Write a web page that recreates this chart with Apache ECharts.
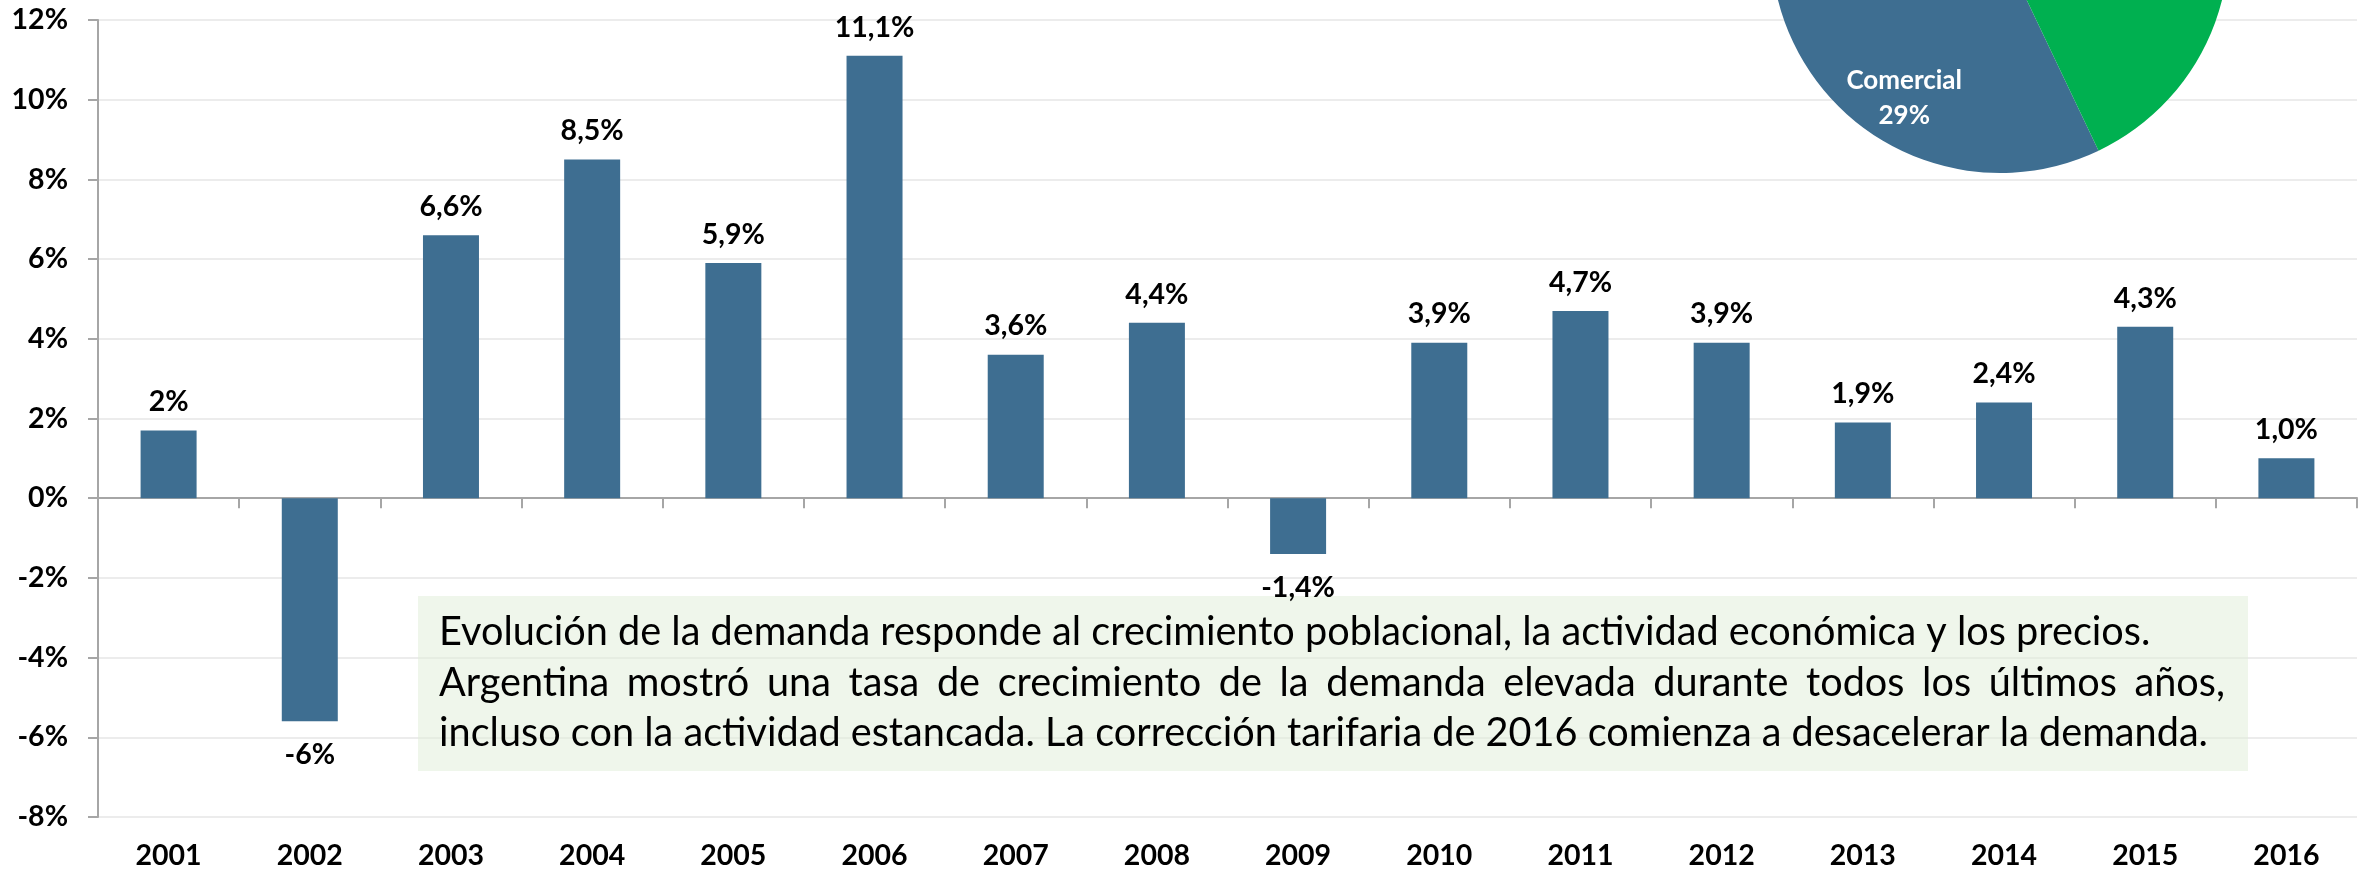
<!DOCTYPE html>
<html>
<head>
<meta charset="utf-8">
<script src="https://cdn.jsdelivr.net/npm/echarts@6/dist/echarts.min.js"></script>
<style>
html,body{margin:0;padding:0;background:#fff;}
#chart{width:2369px;height:872px;}
</style>
</head>
<body>
<div id="chart"></div>
<script>
// ---- data ----
const years = ['2001','2002','2003','2004','2005','2006','2007','2008','2009','2010','2011','2012','2013','2014','2015','2016'];
const growth = [1.7, -5.6, 6.6, 8.5, 5.9, 11.1, 3.6, 4.4, -1.4, 3.9, 4.7, 3.9, 1.9, 2.4, 4.3, 1.0];
const growthLabels = ['2%','-6%','6,6%','8,5%','5,9%','11,1%','3,6%','4,4%','-1,4%','3,9%','4,7%','3,9%','1,9%','2,4%','4,3%','1,0%'];
const yMin = -8, yMax = 12, yStep = 2;
const pieNames = ['Comercial','Residencial','Industrial'];
const pieValues = [29, 43, 28];
const noteLines = [
  'Evolución de la demanda responde al crecimiento poblacional, la actividad económica y los precios.',
  'Argentina mostró una tasa de crecimiento de la demanda elevada durante todos los últimos años,',
  'incluso con la actividad estancada. La corrección tarifaria de 2016 comienza a desacelerar la demanda.'
];

// ---- layout helpers ----
const FONT = 'Lato, "Open Sans", sans-serif';
const cv = document.createElement('canvas').getContext('2d');
function measure(t, size){ cv.font = size + 'px ' + FONT; return cv.measureText(t).width; }
const noteLeft = 439, line1W = 1712, line2W = 1786;
const noteSize = Math.min(41, 41 * line1W / measure(noteLines[0], 41));
const baselines = [646, 697, 747];

const noteEls = [];
noteEls.push({type:'rect', left:418, top:596, z:1, shape:{width:1830, height:175}, style:{fill:'rgba(226,239,218,0.55)'}});
function addText(t, x, base){
  noteEls.push({type:'text', x:x, y:base - noteSize*0.34, z:6,
    style:{text:t, font: noteSize + 'px ' + FONT, fill:'#000', verticalAlign:'middle', align:'left'}});
}
addText(noteLines[0], noteLeft, baselines[0]);
// justified second line
(function(){
  const words = noteLines[1].split(' ');
  const ws = words.map(w => measure(w, noteSize));
  const sum = ws.reduce((a,b)=>a+b,0);
  const gap = (line2W - sum) / (words.length - 1);
  let x = noteLeft;
  words.forEach((w,i)=>{ addText(w, x, baselines[1]); x += ws[i] + gap; });
})();
addText(noteLines[2], noteLeft, baselines[2]);

const chart = echarts.init(document.getElementById('chart'));
const axisGray = '#a6a6a6';
const boldText = {color:'#000', fontWeight:'bold', fontSize:28.5, fontFamily:FONT};
chart.setOption({
  animation:false,
  backgroundColor:'#fff',
  grid:{left:98, right:12, top:20, bottom:55, containLabel:false},
  xAxis:[
    {type:'category', data:years, position:'bottom',
     axisLine:{onZero:true, lineStyle:{color:axisGray, width:2}},
     axisTick:{show:true, alignWithLabel:false, length:10, lineStyle:{color:axisGray, width:2}},
     axisLabel:{show:false}, splitLine:{show:false}},
    {type:'category', data:years, position:'bottom',
     axisLine:{show:false, onZero:false}, axisTick:{show:false},
     axisLabel:Object.assign({margin:24}, boldText)}
  ],
  yAxis:{type:'value', min:yMin, max:yMax, interval:yStep,
    axisLine:{show:true, lineStyle:{color:axisGray, width:2}},
    axisTick:{show:true, length:10, lineStyle:{color:axisGray, width:2}},
    axisLabel:Object.assign({formatter:'{value}%', margin:30}, boldText),
    splitLine:{lineStyle:{color:'#ececec', width:2}}},
  series:[
    {type:'bar', xAxisIndex:0, barWidth:56, z:4,
     itemStyle:{color:'#3E6E91'},
     data: growth.map((v,i)=>({value:v, label:{position: v<0 ? 'bottom':'top', distance: v<0 ? 19 : 14}})),
     label:Object.assign({show:true, formatter:p=>growthLabels[p.dataIndex]}, boldText)},
    {type:'pie', center:[2000,-56], radius:229, startAngle:-64.5, clockwise:true,
     silent:true, z:3,
     data: pieNames.map((n,i)=>({name:n, value:pieValues[i], label:{show:i===0}})),
     color:['#3E6E91','#5B9BD5','#00B050'],
     itemStyle:{borderWidth:0},
     label:{position:'inside', formatter:'{b}\n{d}%', color:'#fff', fontWeight:'bold', fontSize:26, lineHeight:35, fontFamily:FONT},
     labelLine:{show:false},
     labelLayout:p=> p.dataIndex===0 ? {dx:-43, dy:49} : {}
    }
  ],
  graphic: noteEls
});
</script>
</body>
</html>
